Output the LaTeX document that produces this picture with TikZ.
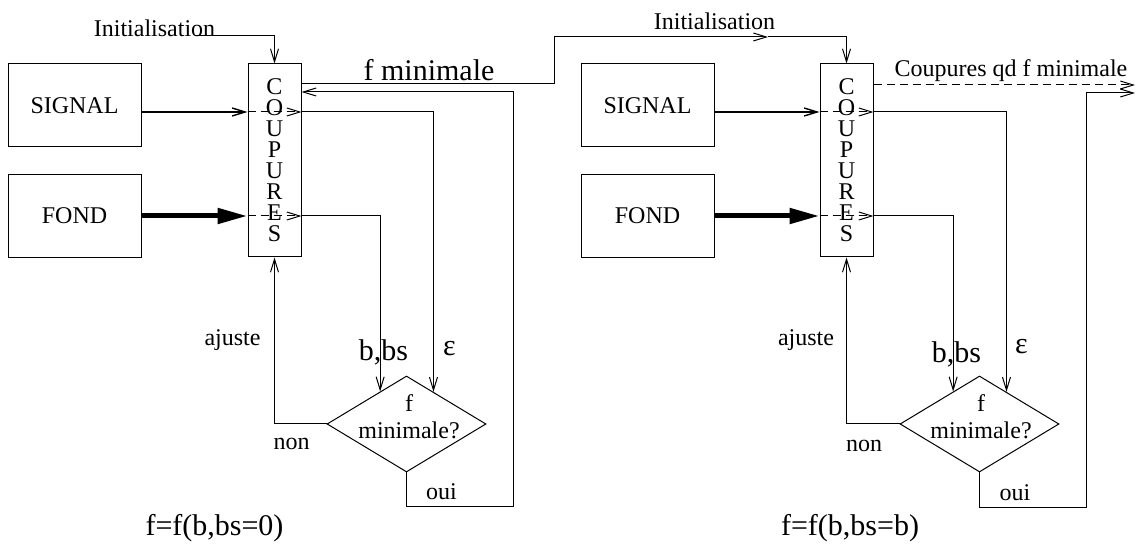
\documentclass[tikz,border=0pt]{standalone}
\usepackage{fontspec}
\setmainfont{Liberation Serif}
\usetikzlibrary{shapes.geometric, arrows.meta}

\begin{document}
\begin{tikzpicture}[x=0.5pt, y=-0.5pt, line width=0.5pt,
    >={Straight Barb[length=6.5pt,width=4pt]},
    box/.style={draw, minimum width=66.5pt, minimum height=41.5pt, font=\fontsize{12}{14}\selectfont},
    cut/.style={draw, minimum width=26.5pt, minimum height=96.5pt, inner sep=0pt, align=center, font=\fontsize{12}{10.5}\selectfont},
    decision/.style={draw, diamond, minimum width=79.5pt, minimum height=48pt, inner sep=0pt},
    lbl/.style={font=\fontsize{12}{13.5}\selectfont, inner sep=0pt},
    big/.style={font=\fontsize{15}{17}\selectfont, inner sep=0pt},
    fat/.style={line width=2.5pt, -{Triangle[length=15pt,width=7.5pt]}},
    cutline/.style={dash pattern=on 4pt off 2.5pt, ->}]
    \useasboundingbox (0,0) rectangle (1136,544);

    % Left loop: f=f(b,bs=0)
    \node[box] (sigL) at (74.5,105.5) {SIGNAL};
    \node[box] (fondL) at (74.5,216) {FOND};
    \node[cut] (coupL) at (274.5,160.5) {C\\O\\U\\P\\U\\R\\E\\S};
    \node[decision] (decL) at (406.5,424) {};
    \node[lbl, align=center] (qL) at (409,416.5) {f\\minimale?};
    \node[lbl] (initL) at (154.5,28) {Initialisation};
    \node[big] (fminL) at (429,70) {f minimale};
    \node[big] (bbsL) at (383.5,352) {b,bs};
    \node[big] (epsL) at (449.5,349) {ε};
    \node[lbl] (ajL) at (232.5,340) {ajuste};
    \node[lbl] (nonL) at (291.5,444) {non};
    \node[lbl] (ouiL) at (441.5,492) {oui};
    \node[big] (formL) at (214.5,528) {f=f(b,bs=0)};

    \coordinate (iniL) at (195,36);
    \coordinate (inL1) at (coupL.west |- 0,112);
    \coordinate (retL) at (513,507);
    \coordinate (kink) at (554,37);
    \coordinate (iniR) at (768,37);

    % Right loop: f=f(b,bs=b)
    \node[box] (sigR) at (647.5,105.5) {SIGNAL};
    \node[box] (fondR) at (647.5,216) {FOND};
    \node[cut] (coupR) at (846.5,160.5) {C\\O\\U\\P\\U\\R\\E\\S};
    \node[decision] (decR) at (979.5,424) {};
    \node[lbl, align=center] (qR) at (981,416.5) {f\\minimale?};
    \node[lbl] (initR) at (714.5,21) {Initialisation};
    \node[lbl] (cqdR) at (1011,71) {Coupures qd f minimale};
    \node[big] (bbsR) at (956.5,354) {b,bs};
    \node[big] (epsR) at (1021.5,347) {ε};
    \node[lbl] (ajR) at (806,340) {ajuste};
    \node[lbl] (nonR) at (864,446) {non};
    \node[lbl] (ouiR) at (1015,493) {oui};
    \node[big] (formR) at (850,528) {f=f(b,bs=b)};

    \coordinate (inR1) at (coupR.west |- 0,112);
    \coordinate (retR) at (1086,508);
    \coordinate (endR1) at (1135,85);
    \coordinate (endR2) at (1135,93);

    % Left connectors
    \draw[->] (iniL) -| (coupL.north);
    \draw[line width=0.7pt, ->] (sigL.east |- inL1) -- (inL1);
    \draw[cutline] (inL1) -- (coupL.east |- inL1);
    \draw[->] (coupL.east |- inL1) -| (decL.50);
    \draw[fat] (fondL.east) -- (fondL.east -| coupL.west);
    \draw[cutline] (fondL.east -| coupL.west) -- (fondL.east -| coupL.east);
    \draw[->] (fondL.east -| coupL.east) -| (decL.129);
    \draw[->] (decL.west) -| (coupL.south);
    \draw[->] (decL.south) |- (retL) |- (coupL.east |- 0,92);

    % f minimale -> Initialisation of the right loop
    \draw[->] (coupL.east |- 0,84) -| (kink) -- (iniR);
    \draw[->] (iniR) -| (coupR.north);

    % Right connectors
    \draw[line width=0.7pt, ->] (sigR.east |- inR1) -- (inR1);
    \draw[cutline] (inR1) -- (coupR.east |- inR1);
    \draw[->] (coupR.east |- inR1) -| (decR.50);
    \draw[fat] (fondR.east) -- (fondR.east -| coupR.west);
    \draw[cutline] (fondR.east -| coupR.west) -- (fondR.east -| coupR.east);
    \draw[->] (fondR.east -| coupR.east) -| (decR.129);
    \draw[->] (decR.west) -| (coupR.south);
    \draw[->] (decR.south) |- (retR) |- (endR2);
    \draw[cutline] (coupR.east |- endR1) -- (endR1);
\end{tikzpicture}
\end{document}
